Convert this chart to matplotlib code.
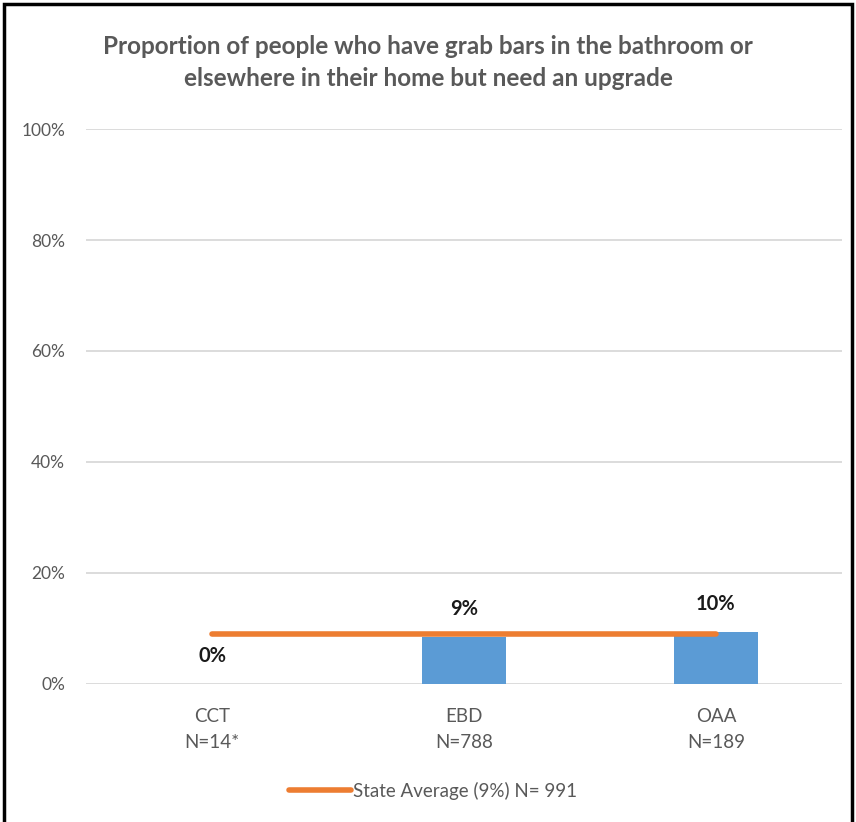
import matplotlib
matplotlib.use('Agg')
import matplotlib.pyplot as plt
from matplotlib.patches import Rectangle
from matplotlib.lines import Line2D

groups = ['CCT\nN=14*', 'EBD\nN=788', 'OAA\nN=189']
values = [0.0, 8.5, 9.4]
value_labels = ['0%', '9%', '10%']
state_avg = 9.0
state_label = 'State Average (9%) N= 991'
title = 'Proportion of people who have grab bars in the bathroom or\nelsewhere in their home but need an upgrade'

plt.rcParams['font.family'] = ['Lato', 'DejaVu Sans']

fig = plt.figure(figsize=(8.56, 8.22), dpi=100)
ax = fig.add_axes([0.1005, 0.168, 0.883, 0.675])

x = list(range(len(groups)))
ax.bar(x, values, width=0.333, color='#5b9bd5', zorder=2)
ax.plot(x, [state_avg] * len(x), color='#ed7d31', linewidth=4,
        solid_capstyle='round', zorder=3)

for xi, v, lab in zip(x, values, value_labels):
    ax.annotate(lab, (xi, v), xytext=(0, 20), textcoords='offset points',
                ha='center', va='center', fontsize=14.5, fontweight='bold',
                color='#1a1a1a')

ax.set_xlim(-0.5, 2.5)
ax.set_ylim(0, 100)
ax.set_yticks([0, 20, 40, 60, 80, 100])
ax.set_yticklabels(['0%', '20%', '40%', '60%', '80%', '100%'])
ax.set_xticks(x)
ax.set_xticklabels(groups, linespacing=1.7)
ax.tick_params(axis='x', length=0, labelsize=13.5, colors='#595959', pad=17)
ax.tick_params(axis='y', length=0, labelsize=12.5, colors='#595959', pad=15)
ax.grid(axis='y', color='#d9d9d9', linewidth=1.3, zorder=0)
for s in ax.spines.values():
    s.set_visible(False)

fig.text(0.5, 0.924, title, ha='center', va='center', fontsize=17.5,
         fontweight='bold', color='#595959', linespacing=1.5)

handle = Line2D([], [], color='#ed7d31', linewidth=4, solid_capstyle='round')
fig.legend([handle], [state_label], loc='center', bbox_to_anchor=(0.506, 0.038),
           frameon=False, fontsize=13.5, handlelength=3.3, handletextpad=0.15,
           labelcolor='#595959')

fig.patches.append(Rectangle((0.005, -0.05), 0.99, 1.045, transform=fig.transFigure,
                             fill=False, edgecolor='black', linewidth=2.5))

fig.savefig('out.png', dpi=100, facecolor='white')
